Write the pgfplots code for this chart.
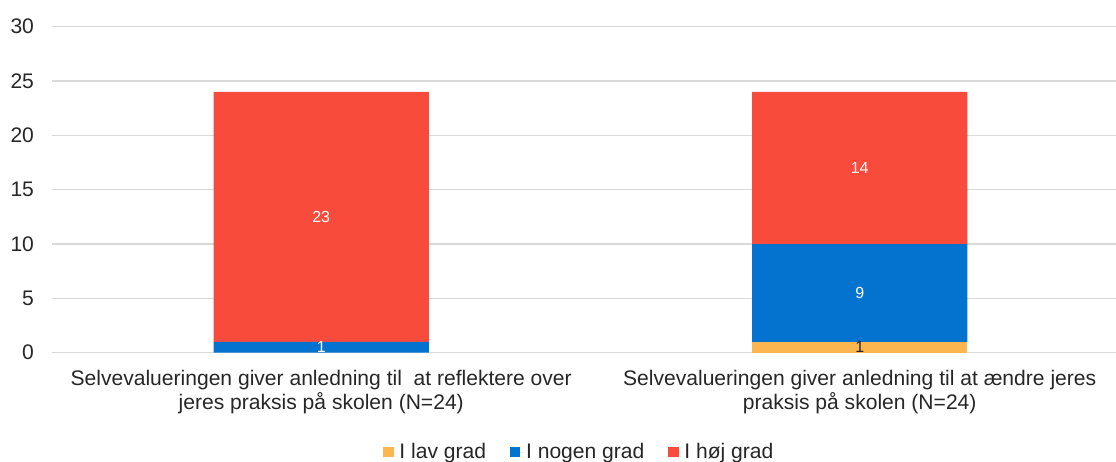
\documentclass[border=0pt]{standalone}
\usepackage{pgfplots}
\pgfplotsset{compat=1.18}
\usepackage{fontspec}
\setmainfont{Liberation Sans}
\definecolor{cLav}{HTML}{FBB650}
\definecolor{cNogen}{HTML}{0473CF}
\definecolor{cHoj}{HTML}{F94B3C}
\definecolor{cGrid}{HTML}{D9D9D9}
\definecolor{cTxt}{HTML}{262626}
\begin{document}
\begin{tikzpicture}
\path[use as bounding box] (-39pt,-81.25pt) rectangle (798pt,264.5pt);
\begin{axis}[
  scale only axis,
  width=798pt, height=244.5pt,
  ybar stacked, bar width=0.4,
  xmin=-0.5, xmax=1.476,
  ymin=0, ymax=30,
  ytick={0,5,...,30},
  xtick={0,1},
  xticklabels={{Selvevalueringen giver anledning til\ \ at reflektere over\\jeres praksis på skolen (N=24)},
               {Selvevalueringen giver anledning til at ændre jeres\\praksis på skolen (N=24)}},
  xticklabel style={align=center, font=\fontsize{15.8}{18}\selectfont, text=cTxt, yshift=-10pt},
  yticklabel style={font=\fontsize{15.8}{18}\selectfont, text=cTxt, xshift=-10pt},
  /pgf/number format/assume math mode=true,
  axis line style={draw=none},
  major tick length=0pt,
  ymajorgrids, grid style={cGrid, line width=0.8pt},
  clip=false,
  legend style={at={(0.496,0)}, anchor=center, yshift=-74.5pt, draw=none,
    legend columns=-1, font=\fontsize{15.8}{18}\selectfont, text=cTxt,
    /tikz/every even column/.append style={column sep=16pt}},
  legend image code/.code={\fill[#1] (0pt,-3.8pt) rectangle (7.6pt,3.8pt); \path (0pt,0pt) -- (10pt,0pt);},
]
\addplot[fill=cLav, draw=none] coordinates {(0,0) (1,1)};
\addlegendentry{I lav grad}
\addplot[fill=cNogen, draw=none] coordinates {(0,1) (1,9)};
\addlegendentry{I nogen grad}
\addplot[fill=cHoj, draw=none] coordinates {(0,23) (1,14)};
\addlegendentry{I høj grad}
\end{axis}
\begin{axis}[
  scale only axis,
  width=798pt, height=244.5pt,
  xmin=-0.5, xmax=1.476,
  ymin=0, ymax=30,
  hide axis, clip=false,
  nodes near coords, point meta=explicit symbolic,
  every node near coord/.append style={anchor=center, font=\fontsize{12}{14}\selectfont},
]
\addplot[draw=none, mark=none, nodes near coords style={text=white}] coordinates {(0,0.5)[1] (0,12.5)[23] (1,5.5)[9] (1,17)[14]};
\addplot[draw=none, mark=none, nodes near coords style={text=cTxt}] coordinates {(1,0.5)[1]};
\end{axis}
\end{tikzpicture}
\end{document}
